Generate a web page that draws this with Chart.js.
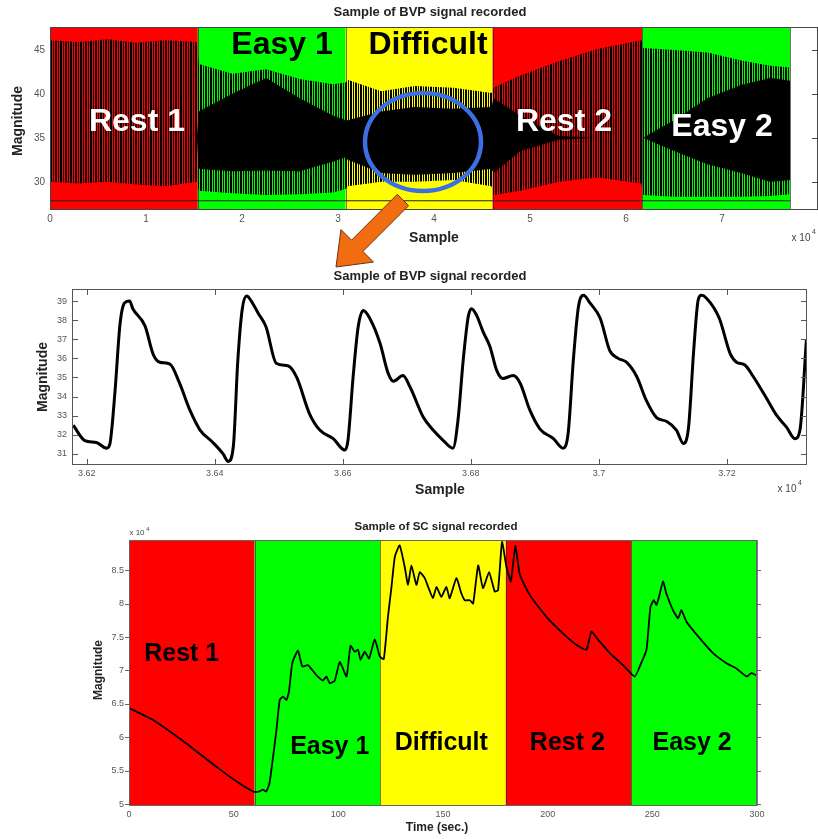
<!DOCTYPE html>
<html>
<head>
<meta charset="utf-8">
<script src="https://cdn.jsdelivr.net/npm/chart.js@4.4.1/dist/chart.umd.min.js"></script>
<style>
body{margin:0;background:#fff;width:818px;height:839px;overflow:hidden;position:relative}
.box{position:absolute;left:0;width:818px}
#overlay{position:absolute;left:0;top:0;pointer-events:none}
</style>
</head>
<body>
<div class="box" style="top:0;height:250px"><canvas id="bvp"></canvas></div>
<div class="box" style="top:255px;height:250px"><canvas id="bvpZoom"></canvas></div>
<div class="box" style="top:505px;height:334px"><canvas id="sc"></canvas></div>
<canvas id="overlay" width="818" height="839"></canvas>
<script>
// stages of the session
var stageNames = ["Rest 1", "Easy 1", "Difficult", "Rest 2", "Easy 2"];
var stageColors = ["#ff0000", "#00ff00", "#ffff00", "#ff0000", "#00ff00"];
var bvpStageEdges = [0, 15400, 30800, 46100, 61700, 77100];
var scStageEdges = [0, 60, 120, 180, 240, 300];

// BVP whole recording, read as envelopes of the dense trace
var bvpX = [0, 3000, 6000, 9000, 12000, 15300, 15500, 19000, 22500, 26000, 29500, 30800, 31000, 34500,
  38000, 42000, 46000, 46200, 49000, 53000, 57000, 61600, 61800, 65000, 68500, 72000, 75000, 77100];
var bvpUpper = [46.1, 45.9, 46.2, 45.8, 46.1, 45.9, 43.4, 42.3, 42.8, 41.7, 41.1, 41.3, 41.6, 40.3,
  40.9, 40.7, 40.1, 40.7, 42.1, 43.7, 45.1, 46.1, 45.2, 45.0, 44.7, 43.8, 43.2, 43.0];
var bvpLower = [30.0, 29.8, 30.0, 29.7, 29.5, 30.0, 29.0, 28.7, 28.5, 28.6, 28.8, 29.2, 29.5, 30.0,
  30.0, 30.2, 29.5, 28.5, 29.0, 30.0, 30.5, 29.8, 28.5, 28.3, 28.3, 28.3, 28.4, 28.6];
var bvpCoreUpper = [35, 35, 35, 35, 35, 35, 38.0, 40.0, 41.8, 39.5, 37.5, 37.0, 37.0, 38.0,
  38.5, 38.3, 38.5, 39.5, 37.5, 35.2, 35, 35, 35, 37.0, 39.5, 41.0, 41.8, 41.5];
var bvpCoreLower = [35, 35, 35, 35, 35, 35, 31.5, 31.2, 31.3, 31.2, 32.3, 32.8, 32.5, 31.0,
  30.8, 31.0, 31.5, 31.0, 33.5, 34.8, 35, 35, 35, 33.5, 32.0, 31.0, 30.0, 30.2];
var bvpFloor = 27.85;

// BVP zoom window
var zoomSample = [36179, 36197, 36215, 36231, 36236, 36244, 36252, 36259, 36267, 36272,
  36291, 36304, 36314, 36330, 36345, 36361, 36377, 36397, 36413, 36421,
  36429, 36436, 36443, 36450, 36457, 36468, 36480, 36496, 36515, 36528,
  36548, 36564, 36585, 36603, 36608, 36616, 36624, 36632, 36642, 36658,
  36671, 36679, 36694, 36705, 36726, 36741, 36757, 36772, 36780, 36788,
  36796, 36801, 36809, 36819, 36830, 36840, 36850, 36866, 36877, 36892,
  36908, 36929, 36944, 36952, 36960, 36968, 36976, 36986, 37002, 37017,
  37030, 37043, 37059, 37074, 37090, 37106, 37121, 37132, 37140, 37148,
  37155, 37160, 37168, 37188, 37205, 37215, 37228, 37241, 37262, 37278,
  37293, 37306, 37314, 37324];
var zoomMag = [32.5, 31.7, 31.6, 31.3, 31.5, 34.2, 37.8, 38.9, 39.0, 38.6,
  37.7, 36.2, 35.8, 35.7, 34.7, 33.3, 32.25, 31.6, 31.0, 30.6,
  31.4, 35.9, 38.6, 39.26, 39.0, 38.35, 37.65, 35.75, 35.6, 35.0,
  33.1, 32.25, 31.8, 31.2, 31.7, 35.0, 37.65, 38.5, 38.1, 36.8,
  35.2, 34.8, 35.1, 34.5, 32.9, 32.25, 31.7, 31.3, 32.8, 35.9,
  38.2, 38.6, 38.25, 37.4, 36.6, 35.4, 34.95, 35.1, 34.7, 33.3,
  32.3, 31.8, 31.3, 32.1, 35.9, 38.7, 39.3, 38.9, 38.1, 36.4,
  36.0, 35.8, 35.05, 33.8, 32.9, 32.7, 32.25, 31.55, 32.4, 36.4,
  39.05, 39.3, 39.15, 38.1, 36.25, 35.8, 35.65, 35.05, 33.9, 33.0,
  32.4, 31.8, 32.25, 36.95];

// SC signal (x10^4)
var scTime = [0, 11.5, 27.4, 41.8, 52.9, 59.5, 62, 64, 65.5, 67,
  68, 70.4, 72, 73.6, 75.2, 76.4, 78, 80.7, 82.8, 85.5,
  89.5, 92.7, 94.3, 95.9, 98.3, 100.7, 103.9, 105.8, 107.8, 109.4,
  110.6, 112.6, 114.7, 117.4, 119.8, 121.7, 123.7, 125.4, 127, 129.3,
  131.7, 133.3, 134.9, 137.3, 138.9, 141.3, 142.9, 145.2, 146.9, 149.2,
  151.6, 153.2, 156.4, 158.8, 160.4, 162.8, 164.4, 166.8, 169.1, 172,
  174.7, 176.3, 178.2, 180.3, 182.4, 184.6, 186.7, 191.4, 199.4, 207.4,
  213.8, 218.5, 220.9, 224.1, 229.7, 236, 241.6, 244, 247.2, 249.1,
  250.7, 252, 253.2, 255.1, 256.7, 259.9, 262.3, 263.9, 266.3, 272.7,
  279, 285.4, 290.2, 295, 297.4, 300];
var scMag = [6.44, 6.26, 5.91, 5.56, 5.31, 5.19, 5.19, 5.22, 5.19, 5.3,
  5.51, 6.1, 6.56, 6.61, 6.56, 6.68, 7.11, 7.3, 7.06, 7.08,
  6.93, 6.85, 6.91, 6.81, 6.85, 7.13, 6.91, 7.37, 7.28, 7.31,
  7.16, 7.28, 7.18, 7.47, 7.21, 7.17, 7.8, 8.25, 8.7, 8.87,
  8.55, 8.28, 8.57, 8.28, 8.47, 8.38, 8.25, 8.08, 8.25, 8.1,
  8.25, 8.08, 8.38, 8.15, 8.05, 8.05, 8.0, 8.57, 8.23, 8.47,
  8.18, 8.2, 8.92, 8.55, 8.33, 8.86, 8.43, 8.13, 7.8, 7.55,
  7.38, 7.31, 7.58, 7.46, 7.26, 7.08, 6.91, 7.06, 7.31, 7.95,
  8.05, 7.98, 8.1, 8.33, 8.15, 7.9, 7.78, 7.9, 7.73, 7.48,
  7.26, 7.11, 7.03, 6.91, 6.96, 6.92];

var FONT = '"Liberation Sans", Arial, sans-serif';
Chart.defaults.font.family = FONT;
Chart.defaults.animation = false;

function pts(xs, ys) {
  return xs.map(function (x, i) { return { x: x, y: ys[i] }; });
}

function stripes() {
  var c = document.createElement("canvas");
  c.width = 5; c.height = 1;
  var g = c.getContext("2d");
  g.fillStyle = "#000";
  g.fillRect(0, 0, 2, 1);
  g.fillRect(3, 0, 1, 1);
  return g.createPattern(c, "repeat");
}

// bands, stage names, frame, tick marks and loose texts
var decor = {
  id: "decor",
  beforeDatasetsDraw: function (chart, args, o) {
    if (!o.edges) return;
    var ctx = chart.ctx, a = chart.chartArea, xs = chart.scales.x;
    ctx.save();
    for (var i = 0; i < o.colors.length; i++) {
      var x0 = xs.getPixelForValue(o.edges[i]), x1 = xs.getPixelForValue(o.edges[i + 1]);
      ctx.fillStyle = o.colors[i];
      ctx.fillRect(x0, a.top, x1 - x0, a.bottom - a.top);
    }
    ctx.strokeStyle = "rgba(40,40,40,0.6)";
    ctx.lineWidth = 1;
    for (var j = 1; j < o.edges.length; j++) {
      var x = Math.round(xs.getPixelForValue(o.edges[j])) + 0.5;
      ctx.beginPath(); ctx.moveTo(x, a.top); ctx.lineTo(x, a.bottom); ctx.stroke();
    }
    ctx.restore();
  },
  afterDatasetsDraw: function (chart, args, o) {
    if (!o.names) return;
    var ctx = chart.ctx, xs = chart.scales.x, ys = chart.scales.y;
    ctx.save();
    ctx.font = o.nameFont;
    ctx.textAlign = "center";
    ctx.textBaseline = "middle";
    for (var i = 0; i < o.names.length; i++) {
      ctx.fillStyle = o.nameColors[i];
      ctx.fillText(o.names[i], xs.getPixelForValue(o.nameAt[i][0]), ys.getPixelForValue(o.nameAt[i][1]));
    }
    ctx.restore();
  },
  afterDraw: function (chart, args, o) {
    var ctx = chart.ctx, a = chart.chartArea, xs = chart.scales.x, ys = chart.scales.y;
    ctx.save();
    ctx.strokeStyle = o.frameColor || "#555";
    ctx.lineWidth = 1;
    ctx.strokeRect(a.left + 0.5, a.top + 0.5, a.right - a.left - 1, a.bottom - a.top - 1);
    var len = o.tickLen || 0, sides = o.tickSides || "";
    ctx.beginPath();
    xs.ticks.forEach(function (t) {
      var p = Math.round(xs.getPixelForValue(t.value)) + 0.5;
      if (sides.indexOf("b") >= 0) { ctx.moveTo(p, a.bottom); ctx.lineTo(p, a.bottom - len); }
      if (sides.indexOf("t") >= 0) { ctx.moveTo(p, a.top); ctx.lineTo(p, a.top + len); }
    });
    ys.ticks.forEach(function (t) {
      var p = Math.round(ys.getPixelForValue(t.value)) + 0.5;
      if (sides.indexOf("l") >= 0) { ctx.moveTo(a.left, p); ctx.lineTo(a.left + len, p); }
      if (sides.indexOf("r") >= 0) { ctx.moveTo(a.right, p); ctx.lineTo(a.right - len, p); }
    });
    ctx.stroke();
    (o.texts || []).forEach(function (t) {
      ctx.save();
      ctx.font = t.font;
      ctx.fillStyle = t.color || "#222";
      ctx.textAlign = t.align || "center";
      ctx.textBaseline = "middle";
      ctx.translate(t.x, t.y);
      if (t.rot) ctx.rotate(t.rot);
      ctx.fillText(t.text, 0, 0);
      ctx.restore();
    });
    ctx.restore();
  }
};

function axes(xmin, xmax, xstep, ymin, ymax, ystep, left, bottom, tickSize, xfmt, yfmt) {
  var tk = { size: tickSize, family: FONT };
  return {
    x: {
      type: "linear", min: xmin, max: xmax,
      grid: { display: false, drawTicks: false }, border: { display: false },
      ticks: { stepSize: xstep, includeBounds: false, maxRotation: 0, autoSkip: false, color: "#555", font: tk, padding: 3, callback: xfmt },
      afterFit: function (s) { s.height = bottom; s.paddingLeft = 0; s.paddingRight = 0; }
    },
    y: {
      type: "linear", min: ymin, max: ymax,
      grid: { display: false, drawTicks: false }, border: { display: false },
      ticks: { stepSize: ystep, includeBounds: false, autoSkip: false, color: "#555", font: tk, padding: 5, callback: yfmt },
      afterFit: function (s) { s.width = left; }
    }
  };
}

function plain(v) { return String(v); }
function e4(v) { return String(Math.round(v) / 10000); }
// the last sample tick sits under the exponent label, so it is left blank
function e4short(v) { return v > 75000 ? "" : e4(v); }

var noPlugins = { legend: { display: false }, tooltip: { enabled: false } };
var ROT = -Math.PI / 2;

// whole BVP recording
new Chart(document.getElementById("bvp"), {
  type: "line",
  data: {
    datasets: [
      { data: pts(bvpX, bvpUpper), fill: "+1", backgroundColor: stripes(), borderColor: "rgba(0,0,0,0)", borderWidth: 0, pointRadius: 0 },
      { data: pts(bvpX, bvpLower), fill: false, borderColor: "rgba(0,0,0,0)", borderWidth: 0, pointRadius: 0 },
      { data: pts(bvpX, bvpCoreUpper), fill: "+1", backgroundColor: "#000", borderColor: "rgba(0,0,0,0)", borderWidth: 0, pointRadius: 0 },
      { data: pts(bvpX, bvpCoreLower), fill: false, borderColor: "rgba(0,0,0,0)", borderWidth: 0, pointRadius: 0 },
      { data: [{ x: 0, y: bvpFloor }, { x: bvpStageEdges[5], y: bvpFloor }], fill: false, borderColor: "#222", borderWidth: 1, pointRadius: 0 }
    ]
  },
  options: {
    responsive: true, maintainAspectRatio: false,
    layout: { padding: { top: 27, right: 0, left: 0, bottom: 0 } },
    scales: axes(0, 80000, 10000, 26.8, 47.6, 5, 50, 40, 10, e4short, plain),
    plugins: Object.assign({}, noPlugins, {
      decor: {
        edges: bvpStageEdges, colors: stageColors,
        names: stageNames, nameFont: "bold 32px " + FONT,
        nameColors: ["#fff", "#000", "#000", "#fff", "#fff"],
        nameAt: [[9060, 36.8], [24170, 45.55], [39375, 45.55], [53540, 36.75], [70000, 36.2]],
        frameColor: "#444", tickLen: 6, tickSides: "r",
        texts: [
          { text: "Sample of BVP signal recorded", x: 430, y: 12, font: "bold 13px " + FONT },
          { text: "Sample", x: 434, y: 238, font: "bold 14px " + FONT },
          { text: "Magnitude", x: 18, y: 121, font: "bold 14px " + FONT, rot: ROT },
          { text: "x 10", x: 801, y: 238, font: "10px " + FONT, color: "#444" },
          { text: "4", x: 814, y: 232, font: "7px " + FONT, color: "#444" }
        ]
      }
    })
  },
  plugins: [decor]
});

// zoomed BVP window
new Chart(document.getElementById("bvpZoom"), {
  type: "line",
  data: {
    datasets: [
      { data: pts(zoomSample, zoomMag), borderColor: "#000", borderWidth: 3, pointRadius: 0, fill: false, cubicInterpolationMode: "monotone" }
    ]
  },
  options: {
    responsive: true, maintainAspectRatio: false,
    layout: { padding: { top: 34, right: 11, left: 0, bottom: 0 } },
    scales: axes(36177, 37325, 200, 30.42, 39.63, 1, 72, 40, 9, e4, plain),
    plugins: Object.assign({}, noPlugins, {
      decor: {
        frameColor: "#555", tickLen: 6, tickSides: "tblr",
        texts: [
          { text: "Sample of BVP signal recorded", x: 430, y: 21, font: "bold 13px " + FONT },
          { text: "Sample", x: 440, y: 235, font: "bold 14px " + FONT },
          { text: "Magnitude", x: 43, y: 122, font: "bold 14px " + FONT, rot: ROT },
          { text: "x 10", x: 787, y: 234, font: "10px " + FONT, color: "#444" },
          { text: "4", x: 800, y: 228, font: "7px " + FONT, color: "#444" }
        ]
      }
    })
  },
  plugins: [decor]
});

// SC signal
new Chart(document.getElementById("sc"), {
  type: "line",
  data: {
    datasets: [
      { data: pts(scTime, scMag), borderColor: "#000", borderWidth: 1.8, pointRadius: 0, fill: false, tension: 0.15 }
    ]
  },
  options: {
    responsive: true, maintainAspectRatio: false,
    layout: { padding: { top: 35, right: 61, left: 0, bottom: 0 } },
    scales: axes(0, 300, 50, 4.975, 8.95, 0.5, 129, 33, 9, plain, plain),
    plugins: Object.assign({}, noPlugins, {
      decor: {
        edges: scStageEdges, colors: stageColors,
        names: stageNames, nameFont: "bold 25px " + FONT,
        nameColors: ["#000", "#000", "#000", "#000", "#000"],
        nameAt: [[25.2, 7.25], [95.9, 5.86], [149.2, 5.92], [209.4, 5.92], [269, 5.92]],
        frameColor: "#666", tickLen: -4, tickSides: "lr",
        texts: [
          { text: "Sample of SC signal recorded", x: 436, y: 22, font: "bold 11.5px " + FONT },
          { text: "Time (sec.)", x: 437, y: 323, font: "bold 12px " + FONT },
          { text: "Magnitude", x: 99, y: 165, font: "bold 12px " + FONT, rot: ROT },
          { text: "x 10", x: 137, y: 28, font: "8px " + FONT, color: "#444" },
          { text: "4", x: 148, y: 24, font: "6px " + FONT, color: "#444" }
        ]
      }
    })
  },
  plugins: [decor]
});

// blue highlight ring and orange pointer between the two BVP plots
(function () {
  var ctx = document.getElementById("overlay").getContext("2d");
  ctx.strokeStyle = "#3b6fe2";
  ctx.lineWidth = 4.5;
  ctx.beginPath();
  ctx.ellipse(423, 142, 58, 49, 0, 0, Math.PI * 2);
  ctx.stroke();

  var tx = 403, ty = 200, hx = 336, hy = 267;
  var dx = hx - tx, dy = hy - ty, L = Math.sqrt(dx * dx + dy * dy);
  var ux = dx / L, uy = dy / L, px = -uy, py = ux;
  var sw = 8, hw = 23, hl = 30;
  var bx = hx - ux * hl, by = hy - uy * hl;
  ctx.beginPath();
  ctx.moveTo(tx + px * sw, ty + py * sw);
  ctx.lineTo(bx + px * sw, by + py * sw);
  ctx.lineTo(bx + px * hw, by + py * hw);
  ctx.lineTo(hx, hy);
  ctx.lineTo(bx - px * hw, by - py * hw);
  ctx.lineTo(bx - px * sw, by - py * sw);
  ctx.lineTo(tx - px * sw, ty - py * sw);
  ctx.closePath();
  ctx.fillStyle = "#f26d12";
  ctx.fill();
  ctx.strokeStyle = "#6b3210";
  ctx.lineWidth = 1;
  ctx.stroke();
})();
</script>
</body>
</html>
